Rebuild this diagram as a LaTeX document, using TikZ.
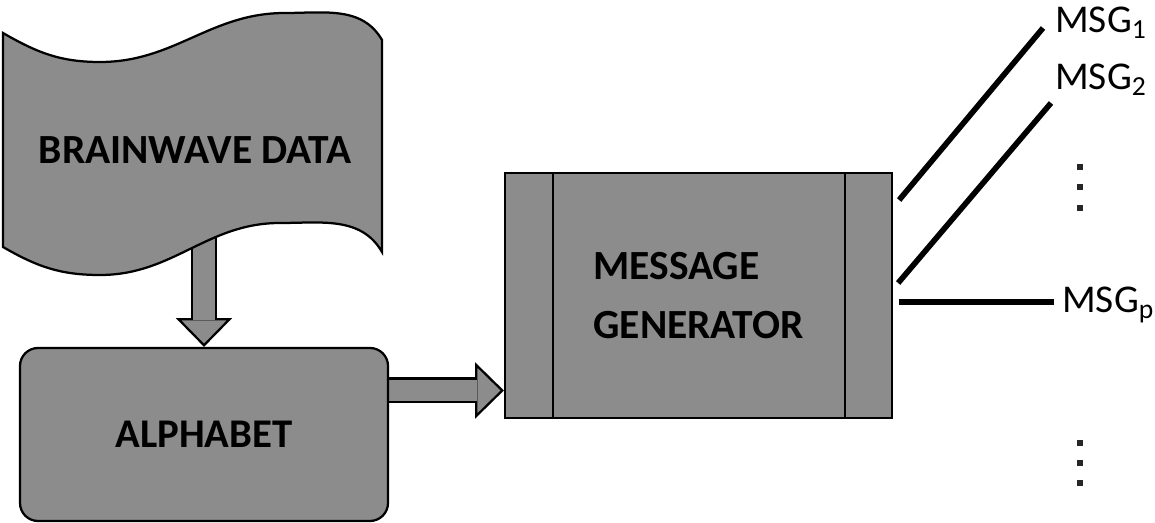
\documentclass[tikz,border=0pt]{standalone}
\usepackage{fontspec}
\setmainfont{Carlito}
\usetikzlibrary{shapes,arrows.meta,backgrounds}
\definecolor{shade}{gray}{0.55}
\tikzstyle{wavebox} = [draw, fill=shade, line width=1.6pt]
\tikzstyle{label} = [font=\fontsize{29.5pt}{34pt}\selectfont\bfseries]
\tikzstyle{block} = [rectangle, draw, fill=shade, line width=1.6pt, rounded corners=0.45cm,
    minimum width=9.2cm, minimum height=4.325cm, font=\fontsize{29pt}{34pt}\selectfont\bfseries]
\tikzstyle{process} = [rectangle, draw, fill=shade, line width=1.6pt, minimum width=9.675cm,
    minimum height=6.125cm, align=left, font=\fontsize{29.5pt}{42pt}\selectfont\bfseries,
    path picture={
      \draw [line width=1.6pt] ([xshift=1.2cm]path picture bounding box.north west) -- ([xshift=1.2cm]path picture bounding box.south west);
      \draw [line width=1.6pt] ([xshift=-1.175cm]path picture bounding box.north east) -- ([xshift=-1.175cm]path picture bounding box.south east);}]
\tikzstyle{fat} = [draw, line width=0.65cm, -{Triangle[length=0.72cm, width=1.4cm, line width=1.6pt, fill=shade]}]
\tikzstyle{fatfill} = [draw=shade, line width=0.54cm, shorten >=0.66cm]
\tikzstyle{msgline} = [draw, line width=4pt]
\tikzstyle{msg} = [anchor=base west, inner sep=0pt, font=\fontsize{28pt}{32pt}\selectfont]
\tikzstyle{dotbox} = [rectangle, fill=black!85, minimum size=0.15cm, inner sep=0pt]

\begin{document}
\begin{tikzpicture}
	\useasboundingbox (0,0) rectangle (28.875,13.05);
	\draw [wavebox] (0.075,12.225) to[out=-30,in=180] (2.5,11.5) to[out=0,in=180] (7.125,12.725)
		to[out=0,in=120] (9.55,12.05) -- (9.55,6.75) to[out=120,in=0] (7.0,7.475)
		to[out=180,in=0] (2.5,6.175) to[out=180,in=-30] (0.075,6.875) -- cycle;
	\node [label] (brain) at (4.875,9.3) {BRAINWAVE DATA};
	\node [block] (alpha) at (5.1,2.1875) {ALPHABET};
	\node [process] (gen) at (17.4625,5.6625) {MESSAGE\\GENERATOR};
	\coordinate (ab) at ([xshift=-0.3cm,yshift=1.1cm]alpha.east);

	\begin{scope}[on background layer]
		\path [fat] (alpha.north |- brain.center) -- (alpha.north);
		\path [fatfill] (alpha.north |- brain.center) -- (alpha.north);
		\path [fat] (ab) -- (ab -| gen.west);
		\path [fatfill] (ab) -- (ab -| gen.west);
	\end{scope}

	\node [msg] (m1) at (26.375,12.225) {MSG\textsubscript{1}};
	\node [msg] (m2) at (26.375,10.8) {MSG\textsubscript{2}};
	\node [msg] (mp) at (26.55,5.225) {MSG\textsubscript{p}};
	\coordinate (o1) at ([xshift=0.15cm,yshift=2.3875cm]gen.east);
	\coordinate (o2) at ([xshift=0.125cm,yshift=0.3125cm]gen.east);
	\coordinate (o3) at ([xshift=0.15cm,yshift=-0.1625cm]gen.east);
	\coordinate (e1) at (26.075,12.35);
	\coordinate (e2) at (26.275,10.475);
	\coordinate (e3) at ([xshift=-0.2cm]o3 -| mp.west);

	\path [msgline] (o1) -- (e1);
	\path [msgline] (o2) -- (e2);
	\path [msgline] (o3) -- (e3);

	\foreach \y [count=\i] in {8.875,8.375,7.85,1.975,1.475,0.975}
		\node [dotbox] (dot\i) at (27,\y) {};
\end{tikzpicture}
\end{document}
